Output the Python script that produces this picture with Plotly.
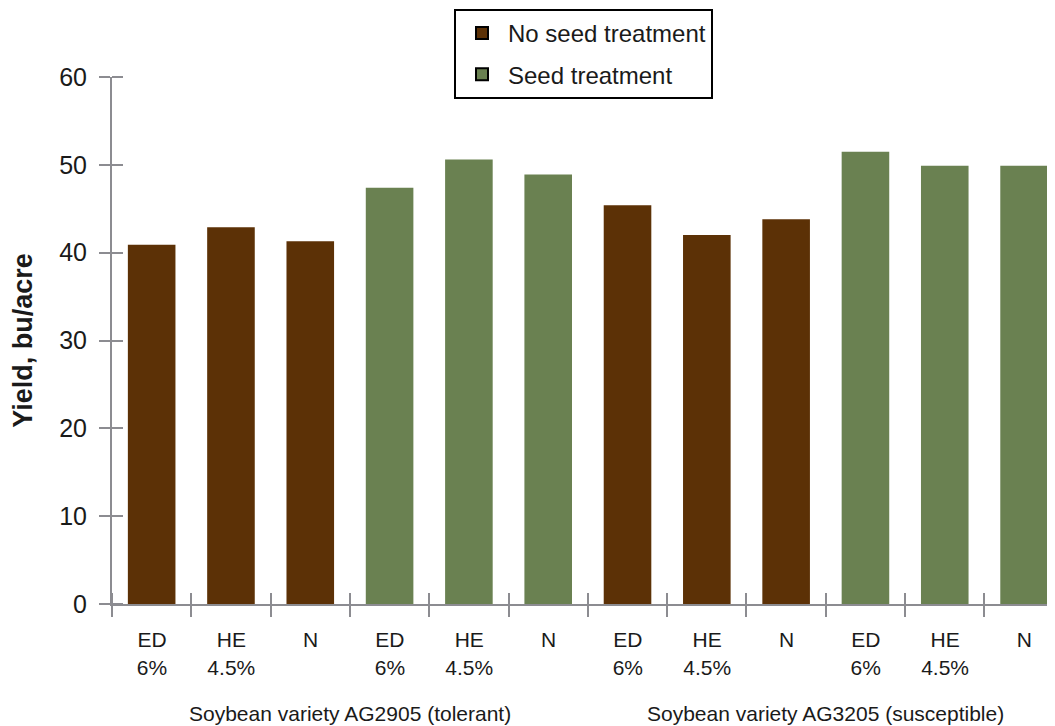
import plotly.graph_objects as go

# ---- data ----
varieties = ["Soybean variety AG2905 (tolerant)", "Soybean variety AG3205 (susceptible)"]
treatments = ["No seed treatment", "Seed treatment"]
products = ["ED<br>6%", "HE<br>4.5%", "N"]
yield_ag2905_no_seed = [40.9, 42.9, 41.3]
yield_ag2905_seed = [47.4, 50.6, 48.9]
yield_ag3205_no_seed = [45.4, 42.0, 43.8]
yield_ag3205_seed = [51.5, 49.9, 49.9]
y_ticks = [0, 10, 20, 30, 40, 50, 60]

colors = {"No seed treatment": "#5C3106", "Seed treatment": "#6A8151"}
AXIS = "#8C8C91"
TXT = "#1a1a1a"
FONT = "Liberation Sans, Arial, Helvetica, sans-serif"

table = {
    (varieties[0], treatments[0]): yield_ag2905_no_seed,
    (varieties[0], treatments[1]): yield_ag2905_seed,
    (varieties[1], treatments[0]): yield_ag3205_no_seed,
    (varieties[1], treatments[1]): yield_ag3205_seed,
}

# category slots in display order: variety -> treatment -> product
cat_keys, cat_labels = [], []
for v in varieties:
    for t in treatments:
        for p in products:
            cat_keys.append((v, t, p))
            cat_labels.append(p)
n = len(cat_keys)
slot = {k: i for i, k in enumerate(cat_keys)}

fig = go.Figure()
for t in treatments:
    xs, ys = [], []
    for v in varieties:
        for p, val in zip(products, table[(v, t)]):
            xs.append(slot[(v, t, p)])
            ys.append(val)
    fig.add_trace(go.Bar(x=xs, y=ys, name=t, marker=dict(color=colors[t], line=dict(width=0)),
                         width=0.6, showlegend=False))
    fig.add_trace(go.Scatter(x=[None], y=[None], mode="markers", name=t, legendgroup=t,
                             hoverinfo="skip",
                             marker=dict(symbol="square", size=26, color=colors[t],
                                         line=dict(color="black", width=2))))

xr = [-0.5, n - 0.61]
L, T, W, H, B = 104, 69, 1047, 718, 122
ph = H - T - B
slot_px = (W - L) / (xr[1] - xr[0])
boundaries = [i - 0.5 for i in range(n + 1)]

fig.update_layout(
    width=W, height=H,
    margin=dict(l=L, r=0, t=T, b=B, autoexpand=False),
    paper_bgcolor="white", plot_bgcolor="white",
    barmode="overlay",
    font=dict(family=FONT, color=TXT),
    xaxis=dict(type="linear", range=xr,
               tickmode="array", tickvals=boundaries[:n], ticktext=cat_labels,
               ticklabelshift=int(round(slot_px / 2)),
               ticks="outside", ticklen=11, tickwidth=2, tickcolor=AXIS,
               minor=dict(tickmode="array", tickvals=boundaries, ticks="inside", ticklen=11,
                          tickwidth=2, tickcolor=AXIS, showgrid=False),
               showline=True, linecolor=AXIS, linewidth=2, showgrid=False, zeroline=False,
               tickfont=dict(size=21, color=TXT), ticklabelstandoff=5),
    yaxis=dict(range=[0, 60], tickvals=y_ticks, ticks="outside", ticklen=11, tickwidth=2,
               tickcolor=AXIS, showline=True, linecolor=AXIS, linewidth=2, showgrid=False,
               zeroline=False, tickfont=dict(size=25, color=TXT), ticklabelstandoff=7,
               minor=dict(tickmode="array", tickvals=y_ticks, ticks="inside", ticklen=11,
                          tickwidth=2, tickcolor=AXIS, showgrid=False),
               title=dict(text="<b>Yield, bu/acre</b>", font=dict(size=27, color=TXT),
                          standoff=21)),
    legend=dict(x=(446 - L) / (W - L), xanchor="left", y=1 + (T - 1) / ph, yanchor="top",
                bordercolor="black", borderwidth=2, bgcolor="white",
                font=dict(size=24, color=TXT), tracegroupgap=7,
                itemsizing="constant", itemwidth=42),
)

for v in varieties:
    idx = [slot[k] for k in cat_keys if k[0] == v]
    fig.add_annotation(x=(idx[0] + idx[-1]) / 2, xref="x", y=-(705 - T - ph) / ph,
                       yref="paper", text=v, showarrow=False, font=dict(size=21, color=TXT),
                       xanchor="center", yanchor="middle")

fig.write_html("out.html")
